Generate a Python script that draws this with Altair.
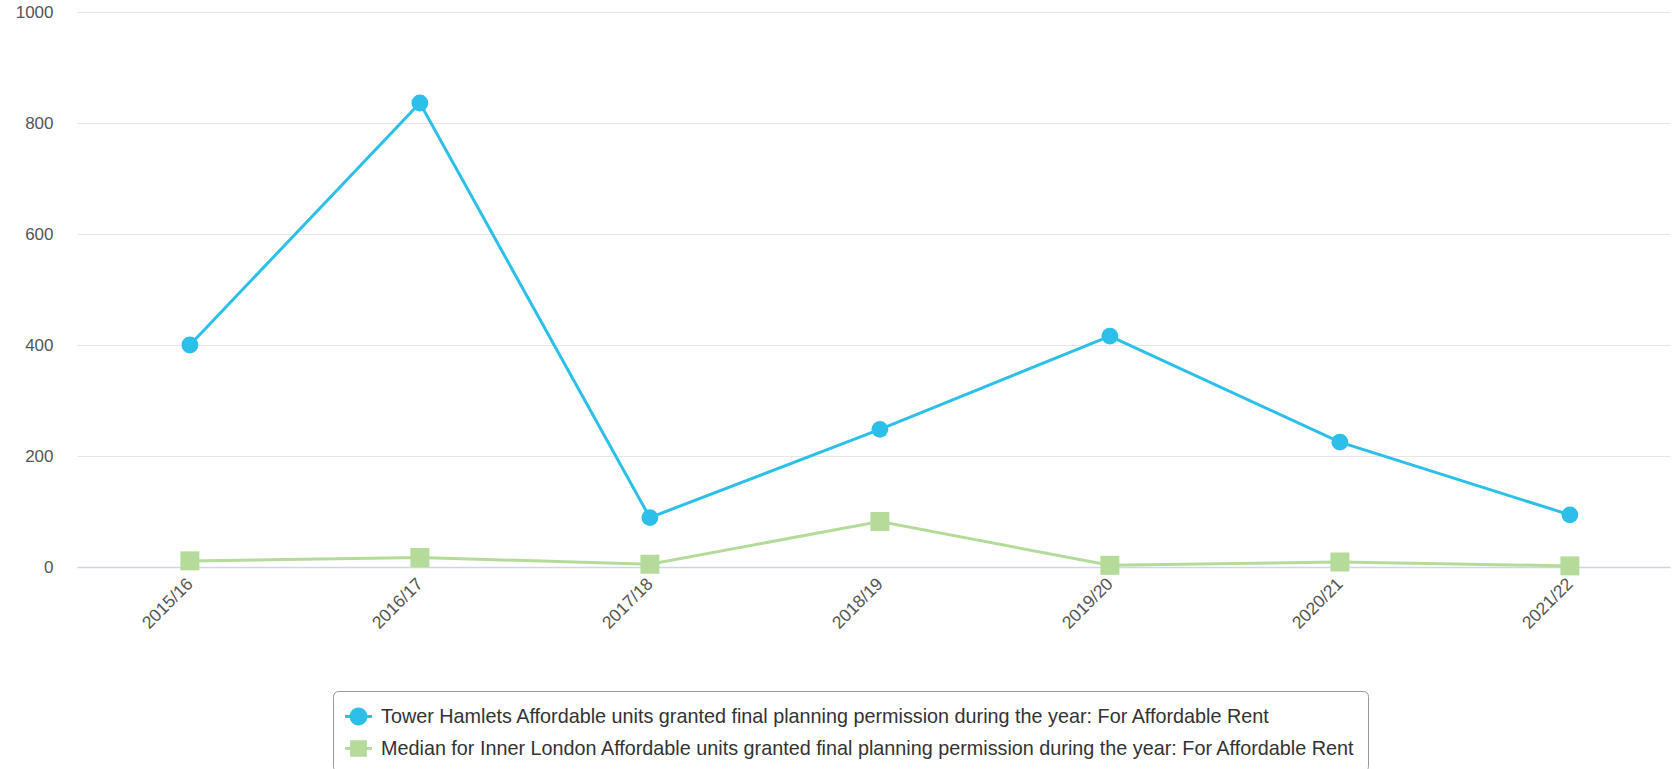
import altair as alt
import pandas as pd

# Financial years on the category axis
years = ["2015/16", "2016/17", "2017/18", "2018/19", "2019/20", "2020/21", "2021/22"]

# Affordable units granted final planning permission (For Affordable Rent)
tower_hamlets = [400, 836, 89, 248, 416, 225, 94]
inner_london_median = [11, 17, 5, 82, 3, 9, 2]

series_names = [
    "Tower Hamlets Affordable units granted final planning permission during the year: For Affordable Rent",
    "Median for Inner London Affordable units granted final planning permission during the year: For Affordable Rent",
]
series_colors = ["#2cbfe9", "#b5db9b"]
y_ticks = [0, 200, 400, 600, 800, 1000]

rows = []
for name, values in zip(series_names, [tower_hamlets, inner_london_median]):
    for year, v in zip(years, values):
        rows.append({"year": year, "series": name, "value": v})
df = pd.DataFrame(rows)

# Legend glyphs: marker with a short line segment on either side
circle_glyph = (
    "M-0.66,0 A0.66,0.66 0 1,1 0.66,0 A0.66,0.66 0 1,1 -0.66,0 Z "
    "M-1,-0.11 L-0.6,-0.11 L-0.6,0.11 L-1,0.11 Z "
    "M0.6,-0.11 L1,-0.11 L1,0.11 L0.6,0.11 Z"
)
square_glyph = (
    "M-0.62,-0.62 L0.62,-0.62 L0.62,0.62 L-0.62,0.62 Z "
    "M-1,-0.11 L-0.6,-0.11 L-0.6,0.11 L-1,0.11 Z "
    "M0.6,-0.11 L1,-0.11 L1,0.11 L0.6,0.11 Z"
)

label_font = "Liberation Sans"

x_enc = alt.X(
    "year:N",
    sort=years,
    scale=alt.Scale(type="point", domain=years, padding=0.463, align=0.53),
    axis=alt.Axis(
        title=None,
        labelAngle=-45,
        labelAlign="right",
        labelBaseline="middle",
        labelFont=label_font,
        labelFontSize=17.5,
        labelColor="#555555",
        labelPadding=14,
        ticks=False,
        grid=False,
        domainColor="#ccd6eb",
        domainWidth=1.5,
    ),
)
y_enc = alt.Y(
    "value:Q",
    scale=alt.Scale(domain=[0, 1000], nice=False),
    axis=alt.Axis(
        title=None,
        values=y_ticks,
        format="d",
        labelFont=label_font,
        labelFontSize=17,
        labelColor="#555555",
        labelPadding=24,
        ticks=False,
        domain=False,
        gridColor="#e6e6e6",
        gridWidth=1,
    ),
)

base = alt.Chart(df)

layers = []
for name, color in zip(series_names, series_colors):
    layers.append(
        base.transform_filter(alt.datum.series == name)
        .mark_line(color=color, strokeWidth=3)
        .encode(x=x_enc, y=y_enc)
    )

layers.append(
    base.transform_filter(alt.datum.series == series_names[1])
    .mark_point(shape="square", filled=True, opacity=1, size=361, color=series_colors[1])
    .encode(x=x_enc, y=y_enc)
)
layers.append(
    base.transform_filter(alt.datum.series == series_names[0])
    .mark_point(shape="circle", filled=True, opacity=1, size=283, color=series_colors[0])
    .encode(x=x_enc, y=y_enc)
)

legend_props = dict(
    title=None,
    orient="none",
    legendX=256,
    legendY=679,
    direction="vertical",
    labelFont=label_font,
    labelFontSize=19.8,
    labelColor="#333333",
    labelLimit=1400,
    labelOffset=9,
    symbolSize=729,
    symbolStrokeWidth=0,
    rowPadding=8,
    padding=12,
    strokeColor="#999999",
    fillColor="#ffffff",
    cornerRadius=5,
)

# Legend carrier: no rows survive the filter, the legend comes from the scale domains
legend_layer = (
    base.transform_filter("false")
    .mark_point(filled=True, opacity=1)
    .encode(
        x=x_enc,
        y=y_enc,
        color=alt.Color(
            "series:N",
            scale=alt.Scale(domain=series_names, range=series_colors),
            legend=alt.Legend(**legend_props),
        ),
        shape=alt.Shape(
            "series:N",
            scale=alt.Scale(domain=series_names, range=[circle_glyph, square_glyph]),
            legend=alt.Legend(**legend_props),
        ),
    )
)
layers.append(legend_layer)

chart = (
    alt.layer(*layers)
    .properties(
        width=1593,
        height=555,
        autosize=alt.AutoSizeParams(type="none"),
        padding={"left": 77, "top": 12, "right": 8, "bottom": 202},
        background="#ffffff",
    )
    .configure_view(stroke=None)
)

chart.save("out.html", embed_options={"renderer": "svg", "actions": False})
